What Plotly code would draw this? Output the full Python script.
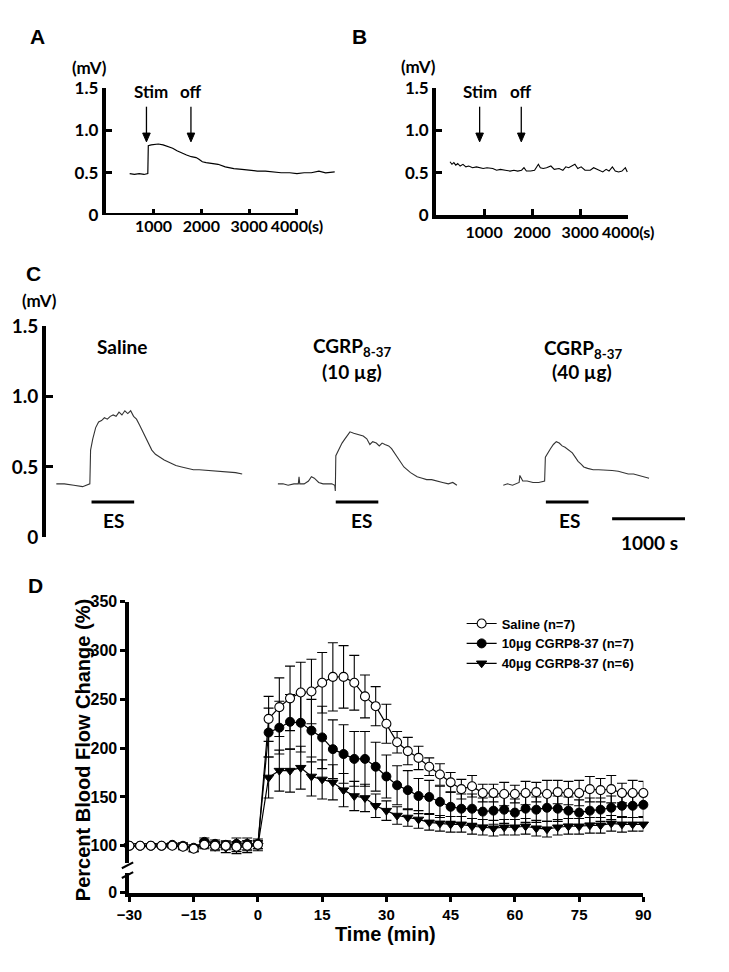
import plotly.graph_objects as go

# ---------------- DATA ----------------
# Panel A: blood flow trace (s, mV)
a_time = [500, 600, 700, 800, 880, 890, 950, 1030, 1100, 1200, 1290, 1400, 1490, 1600, 1690,
          1790, 1890, 1950, 2020, 2100, 2200, 2350, 2500, 2680, 2850, 3010, 3170, 3340, 3500,
          3670, 3850, 4000, 4150, 4300, 4460, 4600, 4790]
a_mv = [0.49, 0.48, 0.49, 0.48, 0.49, 0.82, 0.83, 0.84, 0.84, 0.83, 0.81, 0.79, 0.76, 0.73, 0.71,
        0.69, 0.68, 0.66, 0.63, 0.62, 0.61, 0.60, 0.57, 0.55, 0.54, 0.53, 0.52, 0.52, 0.51,
        0.50, 0.50, 0.49, 0.50, 0.50, 0.52, 0.50, 0.51]

# Panel B
b_time = [290, 330, 370, 410, 450, 500, 560, 620, 680, 760, 840, 910, 980, 1060, 1180,
          1260, 1340, 1440, 1540, 1620, 1700, 1780, 1830, 1880, 1970, 2050, 2100, 2130, 2170, 2230,
          2300, 2390, 2460, 2560, 2640, 2700, 2760, 2820, 2890, 2950, 3020, 3100, 3210, 3280, 3350,
          3410, 3470, 3540, 3600, 3670, 3730, 3800, 3870, 3940, 3980]
b_mv = [0.63, 0.60, 0.62, 0.59, 0.61, 0.58, 0.60, 0.57, 0.58, 0.56, 0.57, 0.56, 0.55, 0.56, 0.55,
        0.53, 0.54, 0.53, 0.52, 0.53, 0.52, 0.53, 0.56, 0.52, 0.52, 0.53, 0.57, 0.60, 0.56, 0.55,
        0.56, 0.58, 0.54, 0.55, 0.53, 0.57, 0.56, 0.58, 0.60, 0.55, 0.57, 0.53, 0.53, 0.56, 0.54,
        0.53, 0.51, 0.54, 0.52, 0.57, 0.52, 0.51, 0.52, 0.56, 0.51]

# Panel C: three traces on a common time line (s)
c_sal_t = [140, 250, 380, 500, 600, 610, 640, 680, 720, 760, 800, 840, 880, 920, 960, 1000, 1040,
           1080, 1120, 1160, 1200, 1240, 1280, 1320, 1360, 1400, 1450, 1500, 1560, 1620, 1700, 1780,
           1860, 1940, 2020, 2100, 2200, 2300, 2400, 2500, 2600, 2690]
c_sal_v = [0.38, 0.38, 0.37, 0.36, 0.38, 0.62, 0.70, 0.78, 0.82, 0.83, 0.85, 0.84, 0.86, 0.87, 0.86,
           0.89, 0.87, 0.90, 0.88, 0.90, 0.86, 0.84, 0.80, 0.76, 0.71, 0.67, 0.62, 0.59, 0.57, 0.55,
           0.53, 0.51, 0.50, 0.49, 0.48, 0.48, 0.475, 0.47, 0.47, 0.465, 0.46, 0.45]
c_10_t = [3180, 3250, 3320, 3400, 3460, 3470, 3480, 3540, 3600, 3640, 3680, 3740, 3800, 3860, 3920,
          3960, 3968, 3975, 4010, 4060, 4100, 4130, 4169, 4220, 4280, 4351, 4400, 4442, 4481, 4530,
          4571, 4610, 4649, 4700, 4740, 4779, 4844, 4909, 5000, 5091, 5160, 5221, 5290, 5351, 5440,
          5519, 5580, 5636]
c_10_v = [0.38, 0.38, 0.37, 0.38, 0.38, 0.43, 0.38, 0.38, 0.40, 0.43, 0.42, 0.39, 0.38, 0.38, 0.38,
          0.37, 0.33, 0.58, 0.62, 0.67, 0.70, 0.72, 0.75, 0.74, 0.73, 0.72, 0.70, 0.66, 0.68, 0.67,
          0.65, 0.67, 0.66, 0.65, 0.63, 0.60, 0.55, 0.50, 0.46, 0.43, 0.42, 0.41, 0.41, 0.40, 0.39,
          0.38, 0.39, 0.37]
c_40_t = [6273, 6330, 6400, 6460, 6490, 6500, 6540, 6600, 6680, 6760, 6840, 6850, 6880, 6920, 6960,
          7000, 7040, 7080, 7120, 7169, 7220, 7260, 7299, 7340, 7377, 7430, 7506, 7580, 7660, 7766,
          7850, 7930, 7987, 8060, 8140, 8210, 8273]
c_40_v = [0.37, 0.38, 0.37, 0.38, 0.39, 0.44, 0.40, 0.40, 0.39, 0.39, 0.40, 0.57, 0.60, 0.63, 0.66,
          0.68, 0.67, 0.65, 0.64, 0.62, 0.60, 0.57, 0.54, 0.52, 0.50, 0.49, 0.48, 0.48, 0.48, 0.475,
          0.47, 0.46, 0.45, 0.45, 0.44, 0.43, 0.42]
es_start = [623, 3974, 6857]
es_end = [1208, 4558, 7442]
scale_bar = [7766, 8766]

# Panel D: percent blood flow change
pre_t = [-30, -27.5, -25, -22.5, -20, -17.5, -15, -12.5, -10, -7.5, -5, -2.5, 0]
post_t = [2.5, 5, 7.5, 10, 12.5, 15, 17.5, 20, 22.5, 25, 27.5, 30, 32.5, 35, 37.5, 40, 42.5, 45,
          47.5, 50, 52.5, 55, 57.5, 60, 62.5, 65, 67.5, 70, 72.5, 75, 77.5, 80, 82.5, 85, 87.5, 90]

saline_pre = [100, 100, 100, 100, 100, 99, 97, 101, 100, 100, 99, 100, 101]
saline_pre_err = [0, 1, 1, 1, 2, 2, 3, 4, 4, 4, 5, 5, 4]
saline_post = [230, 242, 251, 257, 258, 267, 273, 273, 267, 253, 243, 225, 206, 197, 190, 181, 173,
               165, 158, 161, 154, 154, 153, 153, 154, 155, 153, 155, 154, 154, 158, 157, 158, 154,
               154, 154]
saline_post_err = [23, 30, 33, 31, 33, 31, 35, 32, 28, 22, 20, 20, 11, 14, 12, 9, 11, 10, 10, 11,
                   9, 9, 12, 9, 12, 10, 14, 12, 12, 13, 13, 12, 14, 10, 13, 12]

cg10_pre = [100, 100, 100, 100, 101, 100, 98, 104, 102, 101, 102, 102, 102]
cg10_pre_err = [0, 1, 1, 1, 2, 3, 3, 4, 4, 4, 6, 6, 5]
cg10_post = [216, 221, 227, 226, 218, 211, 199, 194, 189, 189, 181, 171, 162, 157, 151, 150, 145,
             140, 138, 138, 135, 136, 137, 134, 138, 137, 139, 138, 136, 134, 136, 137, 139, 141,
             141, 142]
cg10_post_err = [25, 27, 28, 30, 32, 32, 30, 30, 28, 28, 25, 22, 20, 20, 18, 17, 16, 15, 15, 15,
                 14, 14, 14, 14, 14, 13, 14, 13, 14, 13, 13, 12, 12, 12, 12, 12]

cg40_pre = [100, 100, 100, 100, 100, 99, 97, 102, 99, 98, 98, 99, 100]
cg40_pre_err = [0, 1, 1, 1, 2, 3, 3, 4, 4, 5, 6, 6, 5]
cg40_post = [170, 177, 177, 180, 171, 168, 165, 157, 151, 149, 141, 136, 131, 129, 127, 124, 123,
             122, 122, 120, 119, 118, 119, 119, 120, 118, 117, 119, 120, 120, 121, 121, 123, 122,
             122, 122]
cg40_post_err = [21, 21, 22, 22, 20, 20, 18, 17, 15, 14, 12, 10, 9, 9, 9, 8, 8, 8, 8, 8, 8, 8, 8,
                 8, 8, 8, 8, 8, 8, 8, 8, 8, 8, 8, 7, 7]

a_xticks = [1000, 2000, 3000, 4000]
a_xticktext = ["1000", "2000", "3000", "4000(s)"]
mv_ticks = [0, 0.5, 1.0, 1.5]
mv_ticktext = ["0", "0.5", "1.0", "1.5"]
d_xticks = [-30, -15, 0, 15, 30, 45, 60, 75, 90]
d_yticks = [100, 150, 200, 250, 300, 350]

# ---------------- FIGURE ----------------
W, H = 729, 972


def fx(px):
    return px / W


def fy(py):
    return 1 - py / H


CAL = "Lato, 'Open Sans', sans-serif"
ARI = "'Liberation Sans', Arial, sans-serif"

fig = go.Figure()

fig.add_trace(go.Scatter(x=a_time, y=a_mv, mode="lines", line=dict(color="black", width=1.2),
                         xaxis="x", yaxis="y", showlegend=False, hoverinfo="skip"))
fig.add_trace(go.Scatter(x=b_time, y=b_mv, mode="lines", line=dict(color="black", width=1.1),
                         xaxis="x2", yaxis="y2", showlegend=False, hoverinfo="skip"))
for tt, vv in [(c_sal_t, c_sal_v), (c_10_t, c_10_v), (c_40_t, c_40_v)]:
    fig.add_trace(go.Scatter(x=tt, y=vv, mode="lines", line=dict(color="#333333", width=1.1),
                             xaxis="x3", yaxis="y3", showlegend=False, hoverinfo="skip"))

# empty trace so the lower (broken) segment of the D y-axis forms its own subplot
fig.add_trace(go.Scatter(x=[], y=[], mode="lines", xaxis="x4", yaxis="y4", showlegend=False,
                         hoverinfo="skip"))

d_time = pre_t + post_t
series = [
    ("40µg CGRP8-37 (n=6)", cg40_pre + cg40_post, cg40_pre_err + cg40_post_err,
     dict(symbol="triangle-down", size=9, color="black", line=dict(color="black", width=1)), 3),
    ("10µg CGRP8-37 (n=7)", cg10_pre + cg10_post, cg10_pre_err + cg10_post_err,
     dict(symbol="circle", size=9, color="black", line=dict(color="black", width=1)), 2),
    ("Saline (n=7)", saline_pre + saline_post, saline_pre_err + saline_post_err,
     dict(symbol="circle", size=9, color="white", line=dict(color="black", width=1.1)), 1),
]
for name, yv, ev, mk, rank in series:
    fig.add_trace(go.Scatter(
        x=d_time, y=yv, name=name, mode="lines+markers", marker=mk,
        line=dict(color="black", width=1.2),
        error_y=dict(type="data", array=ev, color="black", thickness=1.1, width=5),
        xaxis="x5", yaxis="y5", legendrank=rank, cliponaxis=False, hoverinfo="skip"))

common_lin = dict(showgrid=False, zeroline=False, linecolor="black", tickcolor="black")

fig.update_layout(
    width=W, height=H, margin=dict(l=0, r=0, t=0, b=0),
    paper_bgcolor="white", plot_bgcolor="white",
    showlegend=True, hovermode=False,
    legend=dict(x=fx(474), y=fy(611), xanchor="left", yanchor="top", bgcolor="rgba(0,0,0,0)",
                font=dict(family=ARI, size=13, color="black", weight="bold"),
                itemwidth=30, tracegroupgap=0),
    xaxis=dict(domain=[fx(98), fx(340.4)], range=[0, 4800], anchor="y", showline=False,
               ticks="inside", ticklen=6, tickwidth=3, tickvals=a_xticks, ticktext=a_xticktext,
               tickfont=dict(family=CAL, size=16, color="black", weight="bold"), **common_lin),
    yaxis=dict(domain=[fy(208), fy(78)], range=[0, 1.5], anchor="x", showline=True, linewidth=4,
               ticks="inside", ticklen=6, tickwidth=3, tickvals=mv_ticks, ticktext=mv_ticktext,
               tickfont=dict(family=CAL, size=17, color="black", weight="bold"), **common_lin),
    xaxis2=dict(domain=[fx(447), fx(650)], range=[0, 4000], anchor="y2", showline=True, linewidth=4,
                ticks="inside", ticklen=6, tickwidth=3, tickvals=a_xticks, ticktext=a_xticktext,
                tickfont=dict(family=CAL, size=16, color="black", weight="bold"), **common_lin),
    yaxis2=dict(domain=[fy(208), fy(78)], range=[0, 1.5], anchor="x2", showline=True, linewidth=4,
                ticks="inside", ticklen=6, tickwidth=3, tickvals=mv_ticks, ticktext=mv_ticktext,
                tickfont=dict(family=CAL, size=17, color="black", weight="bold"), **common_lin),
    xaxis3=dict(domain=[fx(35), fx(728)], range=[0, 9000], anchor="y3", visible=False),
    yaxis3=dict(domain=[fy(538), fy(322)], range=[0, 1.5], anchor="x3", showline=True, linewidth=4,
                ticks="inside", ticklen=7, tickwidth=3, tickvals=mv_ticks, ticktext=mv_ticktext,
                tickfont=dict(family=CAL, size=19, color="black", weight="bold"), **common_lin),
    xaxis4=dict(domain=[fx(123), fx(666)], range=[-30, 90], anchor="y4", showline=True, linewidth=4,
                ticks="outside", ticklen=5, tickwidth=3, tickvals=d_xticks,
                tickfont=dict(family=ARI, size=15, color="black", weight="bold"), **common_lin),
    yaxis4=dict(domain=[fy(902), fy(882)], range=[0, 20], anchor="x4", showline=True, linewidth=4,
                ticks="outside", ticklen=5, tickwidth=3, tickvals=[0],
                tickfont=dict(family=ARI, size=16, color="black", weight="bold"), **common_lin),
    xaxis5=dict(domain=[fx(123), fx(666)], range=[-30, 90], anchor="y5", matches="x4",
                visible=False),
    yaxis5=dict(domain=[fy(872), fy(604)], range=[82, 350], anchor="x5", showline=True, linewidth=4,
                ticks="outside", ticklen=5, tickwidth=3, tickvals=d_yticks,
                tickfont=dict(family=ARI, size=16, color="black", weight="bold"), **common_lin),
)

ann = []


def text(px, py, s, size, family=CAL, angle=0):
    ann.append(dict(x=fx(px), y=fy(py), xref="paper", yref="paper", text=s, showarrow=False,
                    xanchor="center", yanchor="middle", textangle=angle,
                    font=dict(family=family, size=size, color="black", weight="bold")))


shapes = []


def arrow(px, py_tail, py_head):
    # shaft
    shapes.append(dict(type="line", xref="paper", yref="paper", x0=fx(px), x1=fx(px),
                       y0=fy(py_tail), y1=fy(py_head - 6), line=dict(color="black", width=1.3)))
    # head
    path = "M {} {} L {} {} L {} {} Z".format(fx(px - 4), fy(py_head - 9), fx(px + 4),
                                              fy(py_head - 9), fx(px), fy(py_head))
    shapes.append(dict(type="path", xref="paper", yref="paper", path=path, fillcolor="black",
                       line=dict(color="black", width=1)))


# panel letters
text(26, 25, "A", 21, ARI)
text(366, 25, "B", 21, ARI)
text(22, 268, "C", 21, ARI)
text(24, 587, "D", 21, ARI)
# units
text(81, 57, "(mV)", 17)
text(428, 56, "(mV)", 17)
text(28, 296, "(mV)", 17)
# stim labels
text(146, 81, "Stim", 17)
text(188, 81, "off", 17)
text(493, 81, "Stim", 17)
text(537, 81, "off", 17)
arrow(141, 97, 133)
arrow(188, 97, 133)
arrow(493, 97, 133)
arrow(537, 97, 133)
# panel C labels
text(115, 343, "Saline", 19)
text(358, 343, "CGRP<sub>8-37</sub>", 19)
text(358, 368, "(10 µg)", 19)
text(602, 345, "CGRP<sub>8-37</sub>", 19)
text(601, 368, "(40 µg)", 19)
text(106, 521, "ES", 19)
text(368, 521, "ES", 19)
text(588, 521, "ES", 19)
text(672, 543, "1000 s", 19)
# panel D titles
text(394, 944, "Time (min)", 20, ARI)
text(74, 756, "Percent Blood Flow Change (%)", 20, ARI, angle=-90)

# A x-axis line ends at 4000 s
shapes.append(dict(type="line", xref="x", yref="y", x0=-40, x1=4000, y0=0, y1=0,
                   line=dict(color="black", width=4)))
# ES bars and scale bar
for s0, s1 in zip(es_start, es_end):
    shapes.append(dict(type="line", xref="x3", yref="paper", x0=s0, x1=s1, y0=fy(502), y1=fy(502),
                       line=dict(color="black", width=3)))
shapes.append(dict(type="line", xref="x3", yref="paper", x0=scale_bar[0], x1=scale_bar[1],
                   y0=fy(519), y1=fy(519), line=dict(color="black", width=3)))
# axis break marks in D
for yb in (874, 884):
    shapes.append(dict(type="line", xref="paper", yref="paper", x0=fx(115), x1=fx(127),
                       y0=fy(yb + 3), y1=fy(yb - 3), line=dict(color="black", width=2)))

fig.update_layout(annotations=ann, shapes=shapes)
fig.write_html("out.html", config={"displayModeBar": False},
               post_script="document.body.style.margin='0';document.body.style.padding='0';")
